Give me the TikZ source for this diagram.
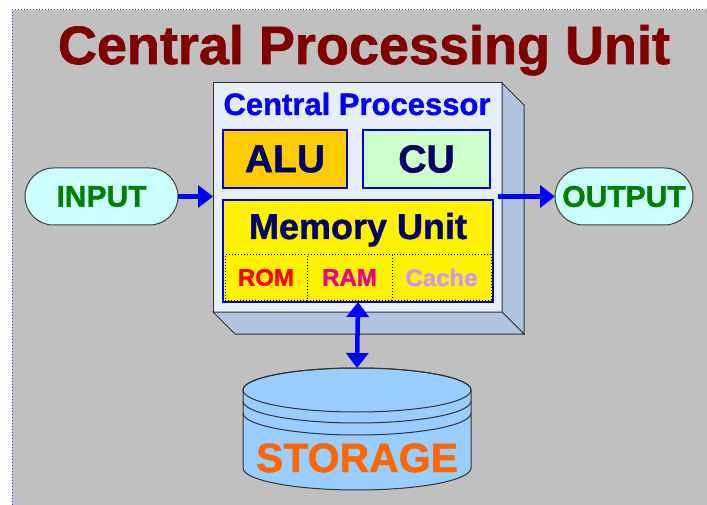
\documentclass[tikz,border=0pt]{standalone}
\usepackage{xcolor}
\usepackage{fontspec}
\setmainfont{Liberation Sans}[BoldFeatures={FakeBold=1.2}]
\usepackage{tikz}
\usetikzlibrary{positioning, shapes.misc, arrows.meta, calc}
\definecolor{panelgray}{HTML}{C0C0C0}
\definecolor{titlered}{HTML}{800000}
\definecolor{frontface}{HTML}{E8EEF8}
\definecolor{sideface}{HTML}{B0C4E2}
\definecolor{unitblue}{HTML}{0000E0}
\definecolor{navytext}{HTML}{000066}
\definecolor{alufill}{HTML}{FFCC00}
\definecolor{cufill}{HTML}{CCFFCC}
\definecolor{pillfill}{HTML}{CCFFFF}
\definecolor{pilltext}{HTML}{008000}
\definecolor{diskfill}{HTML}{99CCFF}
\definecolor{disktext}{HTML}{FF6600}
\definecolor{cachetext}{HTML}{CC99EE}

\begin{document}
\begin{tikzpicture}[x=1pt, y=-1pt, every node/.style={inner sep=0pt, outer sep=0pt},
	unitbox/.style={draw=unitblue, line width=1.6pt, minimum height=58pt, text=navytext, font=\fontsize{39}{40}\selectfont\bfseries},
	cellbox/.style={draw=black, dotted, line width=1pt, fill=yellow, minimum height=45pt, font=\fontsize{24}{26}\selectfont\bfseries},
	pill/.style={rounded rectangle, draw=black!75, line width=1pt, fill=pillfill, text=pilltext, minimum height=57pt, font=\fontsize{30}{32}\selectfont\bfseries},
	flow/.style={draw=blue, line width=4.5pt, -{Triangle[length=15pt, width=22pt]}},
	dualflow/.style={draw=blue, line width=4.5pt, {Triangle[length=15pt, width=22pt]}-{Triangle[length=15pt, width=22pt]}}]
		%% background panel
		\useasboundingbox (0,0) rectangle (707,505);
		\fill[panelgray] (12,10) rectangle (707,505);
		\draw[blue!80, dotted, line width=1pt] (12,505) -- (12,10) -- (707,10);
		\node[anchor=base, text=titlered, font=\fontsize{54}{60}\selectfont\bfseries] (title) at (364,64) {Central Processing Unit};
		
		%% processor block
		\node[draw=black!80, line width=1pt, fill=frontface, minimum width=289pt, minimum height=229pt] (cpu) at (357.5,197.5) {};
		\draw[black!80, line width=1pt, fill=sideface] (cpu.north east) -- ++(22,22) -- ++(0,229) -- (cpu.south east) -- cycle;
		\draw[black!80, line width=1pt, fill=sideface] (cpu.south west) -- ++(22,22) -- ++(289,0) -- (cpu.south east) -- cycle;
		\node[anchor=base, text=blue, font=\fontsize{31}{32}\selectfont\bfseries] (proc) at (357,115) {Central Processor};
		
		\node[unitbox, fill=alufill, minimum width=124pt] (alu) at (285,159) {ALU};
		\node[unitbox, fill=cufill, minimum width=127pt] (cu) at (426.5,159) {CU};
		
		\node[draw=unitblue, line width=1.6pt, fill=yellow, minimum width=270pt, minimum height=102pt] (memory) at (358,251) {};
		\node[anchor=base, text=navytext, font=\fontsize{36}{38}\selectfont\bfseries] (memlabel) at (358,239) {Memory Unit};
		\node[cellbox, text=red, minimum width=82pt] (rom) at (266,277.5) {ROM};
		\node[cellbox, text=magenta, minimum width=85pt] (ram) at (349.5,277.5) {RAM};
		\node[cellbox, text=cachetext, minimum width=99pt] (cache) at (441.5,277.5) {Cache};
		
		%% input / output
		\node[pill, minimum width=153pt] (input) at (101.5,196.5) {INPUT};
		\node[pill, minimum width=138pt] (output) at (624,196.5) {OUTPUT};
		\draw[flow] (input.east) -- (input.east -| cpu.west);
		\draw[flow] (output.west -| cpu.east) ++(-4,0) -- (output.west);
		
		%% storage drum
		\filldraw[fill=diskfill, draw=black!80, line width=1pt] (243,390) -- (243,468) arc[start angle=180, end angle=0, x radius=114, y radius=22] -- (471,390) arc[start angle=0, end angle=-180, x radius=114, y radius=22] -- cycle;
		\draw[black!80, line width=1pt] (357,390) ellipse [x radius=114, y radius=22];
		\draw[black!80, line width=1pt] (243,401) arc[start angle=180, end angle=0, x radius=114, y radius=22];
		\draw[black!80, line width=1pt] (243,413) arc[start angle=180, end angle=0, x radius=114, y radius=22];
		\coordinate (disktop) at (357,368);
		\node[anchor=base, text=disktext, font=\fontsize{41}{42}\selectfont\bfseries] (storage) at (357,472) {STORAGE};
		\draw[dualflow] (memory.south) -- (disktop);
\end{tikzpicture}
\end{document}
